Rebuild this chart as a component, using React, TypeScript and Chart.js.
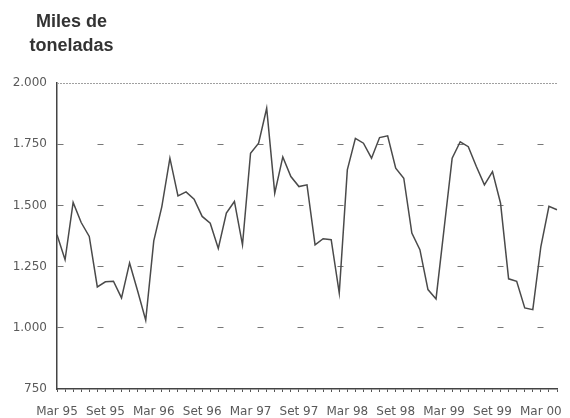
import React, { useEffect, useRef } from "react";
import { Chart, registerables } from "chart.js";

Chart.register(...registerables);

const MONTHS = ["Mar", "Abr", "May", "Jun", "Jul", "Ago", "Set", "Oct", "Nov", "Dic", "Ene", "Feb"];
const START_YEAR = 95;
const TONNES = [
  1380, 1278, 1512, 1430, 1373, 1167, 1188, 1190, 1122, 1265, 1150, 1031,
  1355, 1495, 1693, 1539, 1555, 1525, 1455, 1427, 1324, 1469, 1516, 1339,
  1713, 1754, 1897, 1550, 1698, 1618, 1577, 1584, 1339, 1364, 1360, 1142,
  1645, 1774, 1754, 1693, 1777, 1784, 1652, 1611, 1387, 1319, 1156, 1118,
  1405, 1693, 1760, 1740, 1659, 1584, 1638, 1509, 1200, 1190, 1081, 1074,
  1332, 1496, 1482,
];
const CATEGORIES = TONNES.map((_, i) => {
  const m = i % 12;
  const y = (START_YEAR + Math.floor((i + 2) / 12)) % 100;
  return `${MONTHS[m]} ${String(y).padStart(2, "0")}`;
});
const LABELED_MONTHS = ["Mar", "Set"];
const Y_MIN = 750;
const Y_MAX = 2000;
const Y_STEP = 250;

const fmt = (v: number) =>
  v >= 1000 ? `${Math.floor(v / 1000)}.${String(v % 1000).padStart(3, "0")}` : String(v);

const topLine = {
  id: "topLine",
  afterDraw(chart: any) {
    const { ctx, chartArea } = chart;
    const y = chart.scales.y.getPixelForValue(Y_MAX);
    ctx.save();
    ctx.strokeStyle = "#a0a0a0";
    ctx.lineWidth = 1;
    ctx.setLineDash([2, 1]);
    ctx.beginPath();
    ctx.moveTo(chartArea.left, y + 0.5);
    ctx.lineTo(chartArea.right, y + 0.5);
    ctx.stroke();
    ctx.restore();
  },
};

export default function App() {
  const ref = useRef<HTMLCanvasElement>(null);
  useEffect(() => {
    if (!ref.current) return;
    const chart = new Chart(ref.current, {
      type: "line",
      data: {
        labels: CATEGORIES,
        datasets: [
          {
            data: TONNES,
            borderColor: "#4a4a4a",
            borderWidth: 1.5,
            pointRadius: 0,
            tension: 0,
            fill: false,
          },
        ],
      },
      plugins: [topLine],
      options: {
        animation: false,
        responsive: true,
        maintainAspectRatio: false,
        layout: { padding: { left: 0, right: 4, top: 83, bottom: 0 } },
        plugins: { legend: { display: false }, tooltip: { enabled: false }, title: { display: false } },
        scales: {
          x: {
            type: "category",
            offset: false,
            afterFit: (s: any) => {
              s.height = 29;
            },
            grid: {
              display: true,
              drawOnChartArea: false,
              drawTicks: true,
              tickLength: 3,
              tickColor: "#555",
              tickWidth: 1,
            },
            border: { display: true, color: "#444", width: 1.5 },
            ticks: {
              autoSkip: false,
              maxRotation: 0,
              minRotation: 0,
              padding: 13,
              color: "#5a5a5a",
              font: { family: "DejaVu Sans", size: 12 },
              callback: (_v: any, i: number) =>
                LABELED_MONTHS.includes(CATEGORIES[i].split(" ")[0]) ? CATEGORIES[i] : "",
            },
          },
          y: {
            min: Y_MIN,
            max: Y_MAX,
            afterFit: (s: any) => {
              s.width = 57;
            },
            grid: {
              drawTicks: false,
              color: (c: any) =>
                c.tick && (c.tick.value === Y_MIN || c.tick.value === Y_MAX) ? "rgba(0,0,0,0)" : "#777",
              lineWidth: 1,
            },
            border: { display: true, color: "#444", width: 1.5, dash: [6, 34] },
            ticks: {
              stepSize: Y_STEP,
              padding: 10,
              color: "#5a5a5a",
              font: { family: "DejaVu Sans", size: 12 },
              callback: (v: any) => fmt(Number(v)),
            },
          },
        },
      },
    });
    return () => chart.destroy();
  }, []);

  return (
    <div style={{ position: "absolute", left: 0, top: 0, width: 570, height: 418, background: "#fff" }}>
      <div
        style={{
          position: "absolute",
          left: 0,
          top: 9,
          width: 143,
          textAlign: "center",
          fontFamily: "'Liberation Sans', Arial, sans-serif",
          fontWeight: "bold",
          fontSize: 18,
          lineHeight: "24px",
          color: "#333",
        }}
      >
        Miles de
        <br />
        toneladas
      </div>
      <canvas ref={ref} width={570} height={418} />
    </div>
  );
}
